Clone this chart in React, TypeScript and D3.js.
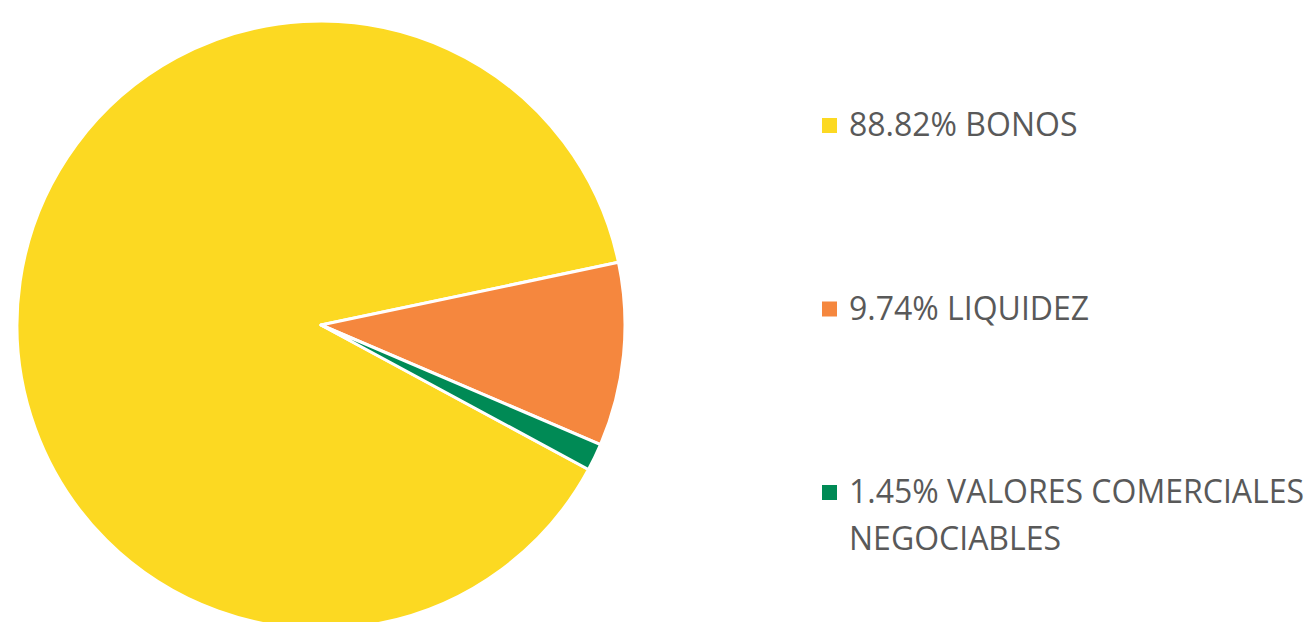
import React from "react";
import * as d3 from "d3";

const categories = ["BONOS", "LIQUIDEZ", "VALORES COMERCIALES NEGOCIABLES"];
const values = [88.82, 9.74, 1.45];
const colors = ["#FCD922", "#F5873E", "#008A55"];
const legendLines = [["88.82% BONOS"], ["9.74% LIQUIDEZ"], ["1.45% VALORES COMERCIALES", "NEGOCIABLES"]];

export default function App() {
  const width = 1311, height = 622;
  const cx = 321, cy = 325, r = 304;
  const orangeStart = (78.1 * Math.PI) / 180;
  const yellowSweep = (values[0] / d3.sum(values)) * 2 * Math.PI;
  const pie = d3.pie<number>().sort(null).value((d) => d)
    .startAngle(orangeStart - yellowSweep)
    .endAngle(orangeStart - yellowSweep + 2 * Math.PI);
  const arcs = pie(values);
  const arc = d3.arc<d3.PieArcDatum<number>>().innerRadius(0).outerRadius(r);
  const legendY = d3.scalePoint<number>().domain([0, 1, 2]).range([125, 492]);
  return (
    <svg width={width} height={height} style={{ position: "absolute", left: 0, top: 0 }}>
      <g transform={`translate(${cx},${cy})`}>
        {arcs.map((a, i) => (
          <path key={categories[i]} d={arc(a) || ""} fill={colors[i]} stroke="#fff" strokeWidth={3} strokeLinejoin="round" />
        ))}
      </g>
      {categories.map((c, i) => {
        const y = legendY(i)!;
        return (
          <g key={c}>
            <rect x={822} y={y - 7} width={15} height={15} fill={colors[i]} />
            <text x={849} y={y + 11} fontFamily="'Open Sans', sans-serif" fontSize={32} fill="#595959">
              {legendLines[i].map((l, j) => (
                <tspan key={j} x={849} dy={j === 0 ? 0 : 47}>{l}</tspan>
              ))}
            </text>
          </g>
        );
      })}
    </svg>
  );
}
